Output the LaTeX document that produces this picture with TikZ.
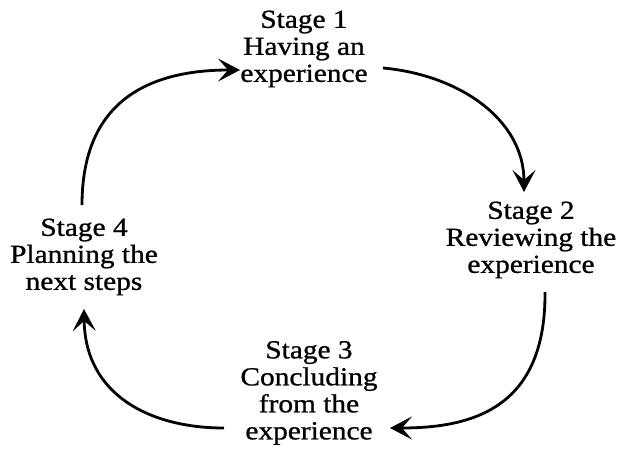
\documentclass[tikz,border=0pt]{standalone}
\usepackage{fontspec}
\newfontfamily\stagefont{Liberation Serif}[FakeStretch=1.13, FakeBold=0.9]
\usetikzlibrary{arrows.meta}

\tikzset{
  stagetext/.style={align=center, inner sep=0pt, font=\stagefont\fontsize{26}{27}\selectfont},
  cyc/.style={line width=2.8pt, -{Stealth[length=22pt, width=23pt, inset=10pt]}}
}

\begin{document}
\begin{tikzpicture}[x=1pt, y=-1pt]
  \useasboundingbox (0,0) rectangle (622,448);

  % the four stages of the cycle
  \node[stagetext] (s1) at (304,49)  {Stage 1\\Having an\\experience};
  \node[stagetext] (s2) at (531,240) {Stage 2\\Reviewing the\\experience};
  \node[stagetext] (s3) at (309,393) {Stage 3\\Concluding\\from the\\experience};
  \node[stagetext] (s4) at (84,257)  {Stage 4\\Planning the\\next steps};

  % end points of the arcs
  \coordinate (a1) at (383,68);  \coordinate (b1) at (524,192);
  \coordinate (a2) at (545,292); \coordinate (b2) at (390,428);
  \coordinate (a3) at (224,428); \coordinate (b3) at (84,309);
  \coordinate (a4) at (82,205);  \coordinate (b4) at (240,70);

  % arcs linking each stage to the next
  \draw[cyc] (a1) .. controls (460,75) and (524,120) .. (b1);
  \draw[cyc] (a2) .. controls (546,410) and (470,428) .. (b2);
  \draw[cyc] (a3) .. controls (150,428) and (85,395) .. (b3);
  \draw[cyc] (a4) .. controls (82,100) and (150,70) .. (b4);
\end{tikzpicture}
\end{document}
